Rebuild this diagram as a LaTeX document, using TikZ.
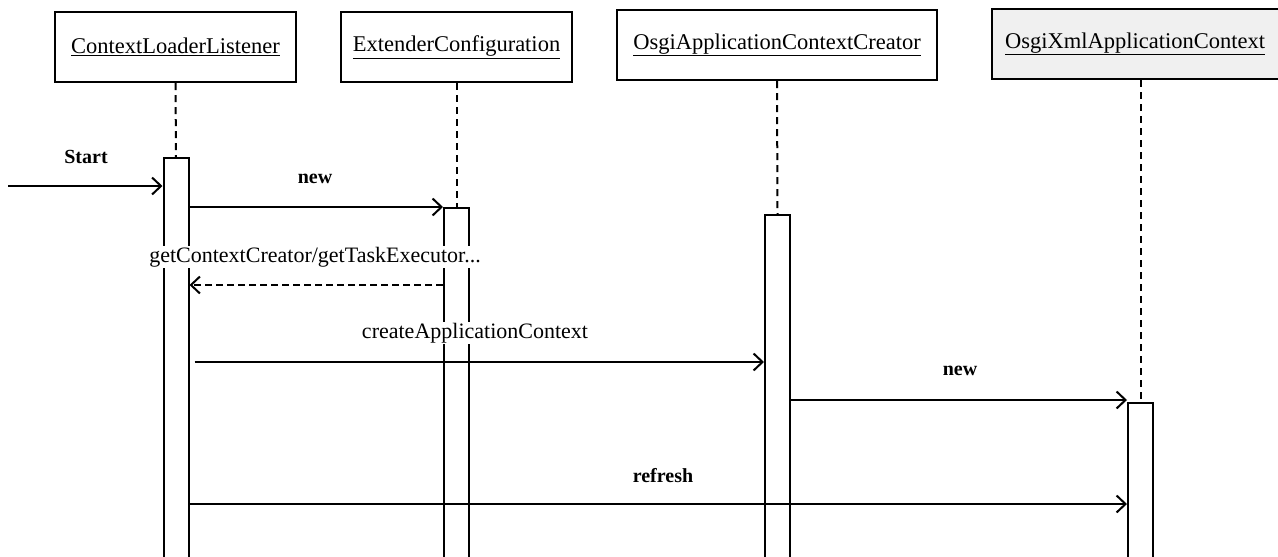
\documentclass[tikz,border=0pt]{standalone}
\usepackage{fontspec}
\setmainfont{Liberation Serif}
\usetikzlibrary{arrows.meta,calc}
\begin{document}
\begin{tikzpicture}[x=1pt,y=-1pt,
  objbox/.style={draw=black,line width=2.2pt,fill=white,minimum height=70pt,inner sep=0pt,font=\fontsize{22.5}{26}\selectfont},
  actbox/.style={draw=black,line width=2pt,fill=white,minimum width=25pt,inner sep=0pt,anchor=north},
  life/.style={line width=2pt,dash pattern=on 7pt off 5pt},
  msg/.style={line width=2pt,-{Straight Barb[length=9pt,width=17pt,line width=2pt]}},
  ret/.style={msg,dash pattern=on 7pt off 4pt},
  lbl/.style={font=\fontsize{22}{26}\selectfont,inner sep=1pt},
  blbl/.style={font=\fontsize{20}{24}\selectfont\bfseries,inner sep=1pt}
]
\useasboundingbox (0,0) rectangle (1278,557);
\clip (0,0) rectangle (1278,557);
\fill[white] (0,0) rectangle (1278,557);

% objects
\node[objbox,minimum width=241pt] (o1) at (175.5,47) {\underline{ContextLoaderListener}};
\node[objbox,minimum width=231pt] (o2) at (456.5,47) {\underline{ExtenderConfiguration}};
\node[objbox,minimum width=320pt] (o3) at (777,45) {\underline{OsgiApplicationContextCreator}};
\node[objbox,minimum width=294pt,fill=gray!12] (o4) at (1139,44) {\hspace*{-8pt}\underline{OsgiXmlApplicationContext}};

% activations
\node[actbox,minimum height=410pt] (a1) at (176,157) {};
\node[actbox,minimum height=360pt] (a2) at (456.5,207) {};
\node[actbox,minimum height=350pt] (a3) at (777.5,214) {};
\node[actbox,minimum height=160pt] (a4) at (1140.5,402) {};

% lifelines
\draw[life] (o1.south) -- (a1.north);
\draw[life] (o2.south) -- (a2.north);
\draw[life] (o3.south) -- (a3.north);
\draw[life] (o4.south -| a4.north) -- (a4.north);

% level coordinates
\coordinate (ys) at (0,186);
\coordinate (y1) at (0,207);
\coordinate (y2) at (0,285);
\coordinate (y3) at (0,362);
\coordinate (y4) at (0,400);
\coordinate (y5) at (0,504);
\coordinate (start) at (8,186);

% start
\node[blbl] (tstart) at (86,157) {Start};
\draw[msg] (start) -- (a1.west |- ys);

% new ExtenderConfiguration
\node[blbl] (tnew1) at (315,179) {new};
\draw[msg] (a1.east |- y1) -- (a2.west |- y1);

% return
\node[lbl,fill=white] (tget) at (315,257) {getContextCreator/getTaskExecutor...};
\draw[ret] (a2.west |- y2) -- (a1.east |- y2);

% createApplicationContext
\draw[msg] ($(a1.east |- y3)+(5,0)$) -- (a3.west |- y3);
\node[lbl,fill=white] (tcreate) at (475,333) {createApplicationContext};

% new OsgiXmlApplicationContext
\node[blbl] (tnew2) at (960,371) {new};
\draw[msg] (a3.east |- y4) -- (a4.west |- y4);

% refresh
\node[blbl] (tref) at (663,476) {refresh};
\draw[msg] (a1.east |- y5) -- (a4.west |- y5);
\end{tikzpicture}
\end{document}
